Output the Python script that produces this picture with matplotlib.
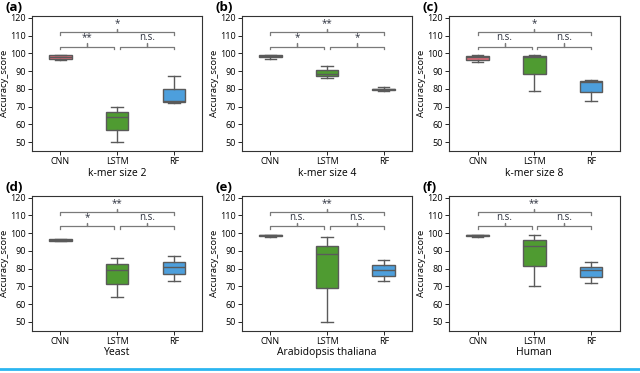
import matplotlib
matplotlib.use("Agg")
import matplotlib.pyplot as plt
from matplotlib.lines import Line2D

plt.rcParams["font.family"] = ["Open Sans", "DejaVu Sans"]

# box stats: [whislo, q1, median, q3, whishi]
models = ["CNN", "LSTM", "RF"]
colors = ["#de6b78", "#4f9b31", "#4d9fdc"]

kmer2 = [[96, 97, 98, 99, 99], [50, 57, 64, 67, 70], [72, 72.8, 73.2, 80, 87]]
kmer4 = [[97, 98, 98.5, 99, 99], [86, 87, 88.5, 90.5, 93], [79, 79.2, 79.7, 80.2, 81]]
kmer8 = [[95, 96.5, 98, 98.5, 99], [79, 88.5, 98, 98.5, 99], [73, 78.5, 84, 84.7, 85]]
yeast = [[95.5, 95.8, 96, 96.5, 96.8], [64, 71.5, 79, 82.5, 86], [73, 77, 81, 84, 87]]
arabidopsis = [[98, 98.5, 99, 99, 99], [50, 69, 88, 93, 98], [73, 76, 79, 82, 85]]
human = [[98, 98.5, 99, 99, 99], [70, 81.5, 93, 96, 99], [72, 75.5, 79, 81, 84]]

# significance: CNN-LSTM, LSTM-RF, CNN-RF
sig_kmer2 = ["**", "n.s.", "*"]
sig_kmer4 = ["*", "*", "**"]
sig_kmer8 = ["n.s.", "n.s.", "*"]
sig_yeast = ["*", "n.s.", "**"]
sig_arabidopsis = ["n.s.", "n.s.", "**"]
sig_human = ["n.s.", "n.s.", "**"]

panels = [
    ("(a)", "k-mer size 2", kmer2, sig_kmer2),
    ("(b)", "k-mer size 4", kmer4, sig_kmer4),
    ("(c)", "k-mer size 8", kmer8, sig_kmer8),
    ("(d)", "Yeast", yeast, sig_yeast),
    ("(e)", "Arabidopsis thaliana", arabidopsis, sig_arabidopsis),
    ("(f)", "Human", human, sig_human),
]

fig = plt.figure(figsize=(6.4, 3.73), dpi=100)
lefts = [0.050, 0.378, 0.702]
bottoms = [0.595, 0.113]
w, h = 0.266, 0.362
edge = "#5a5a5a"
txt = "#2f3340"


def bracket(ax, x1, x2, y, label):
    xm = (x1 + x2) / 2
    ax.plot([x1, x1, xm, xm, xm, x2, x2], [y - 1.6, y, y, y + 2.0, y, y, y - 1.6],
            color="#7a7a7a", lw=0.9, solid_joinstyle="round")
    ax.text(xm, y + 2.0, label, ha="center", va="bottom", fontsize=7, color=txt)


for i, (tag, xlabel, data, sig) in enumerate(panels):
    ax = fig.add_axes([lefts[i % 3], bottoms[i // 3], w, h])
    stats = [dict(whislo=d[0], q1=d[1], med=d[2], q3=d[3], whishi=d[4], fliers=[])
             for d in data]
    bp = ax.bxp(stats, positions=range(3), widths=0.4, patch_artist=True,
                showfliers=False,
                boxprops=dict(edgecolor=edge, linewidth=1.0),
                medianprops=dict(color=edge, linewidth=1.0),
                whiskerprops=dict(color=edge, linewidth=1.0),
                capprops=dict(color=edge, linewidth=1.0), capwidths=0.2)
    for patch, c in zip(bp["boxes"], colors):
        patch.set_facecolor(c)

    bracket(ax, 0, 0.95, 103.8, sig[0])
    bracket(ax, 1.05, 2, 103.8, sig[1])
    bracket(ax, 0, 2, 111.8, sig[2])

    ax.set_xlim(-0.5, 2.5)
    ax.set_ylim(45, 121)
    ax.set_yticks(range(50, 121, 10))
    ax.set_xticks(range(3))
    ax.set_xticklabels(models)
    ax.tick_params(labelsize=6.5, length=3, width=0.6, pad=1.5)
    ax.set_xlabel(xlabel, fontsize=7.5, labelpad=1)
    ax.set_ylabel("Accuracy_score", fontsize=6.8, labelpad=1)
    for s in ax.spines.values():
        s.set_linewidth(0.8)
        s.set_color("#333333")

    fx = lefts[i % 3] - 0.042
    fy = bottoms[i // 3] + h + 0.022
    fig.text(fx, fy, tag, fontsize=9.5, fontweight="bold", va="center", ha="left")

# blue rule at the bottom of the page
fig.add_artist(Line2D([0.0, 1.0], [0.011, 0.011], transform=fig.transFigure,
                      color="#2bb5f0", lw=2))

plt.savefig("out.png", dpi=100)
